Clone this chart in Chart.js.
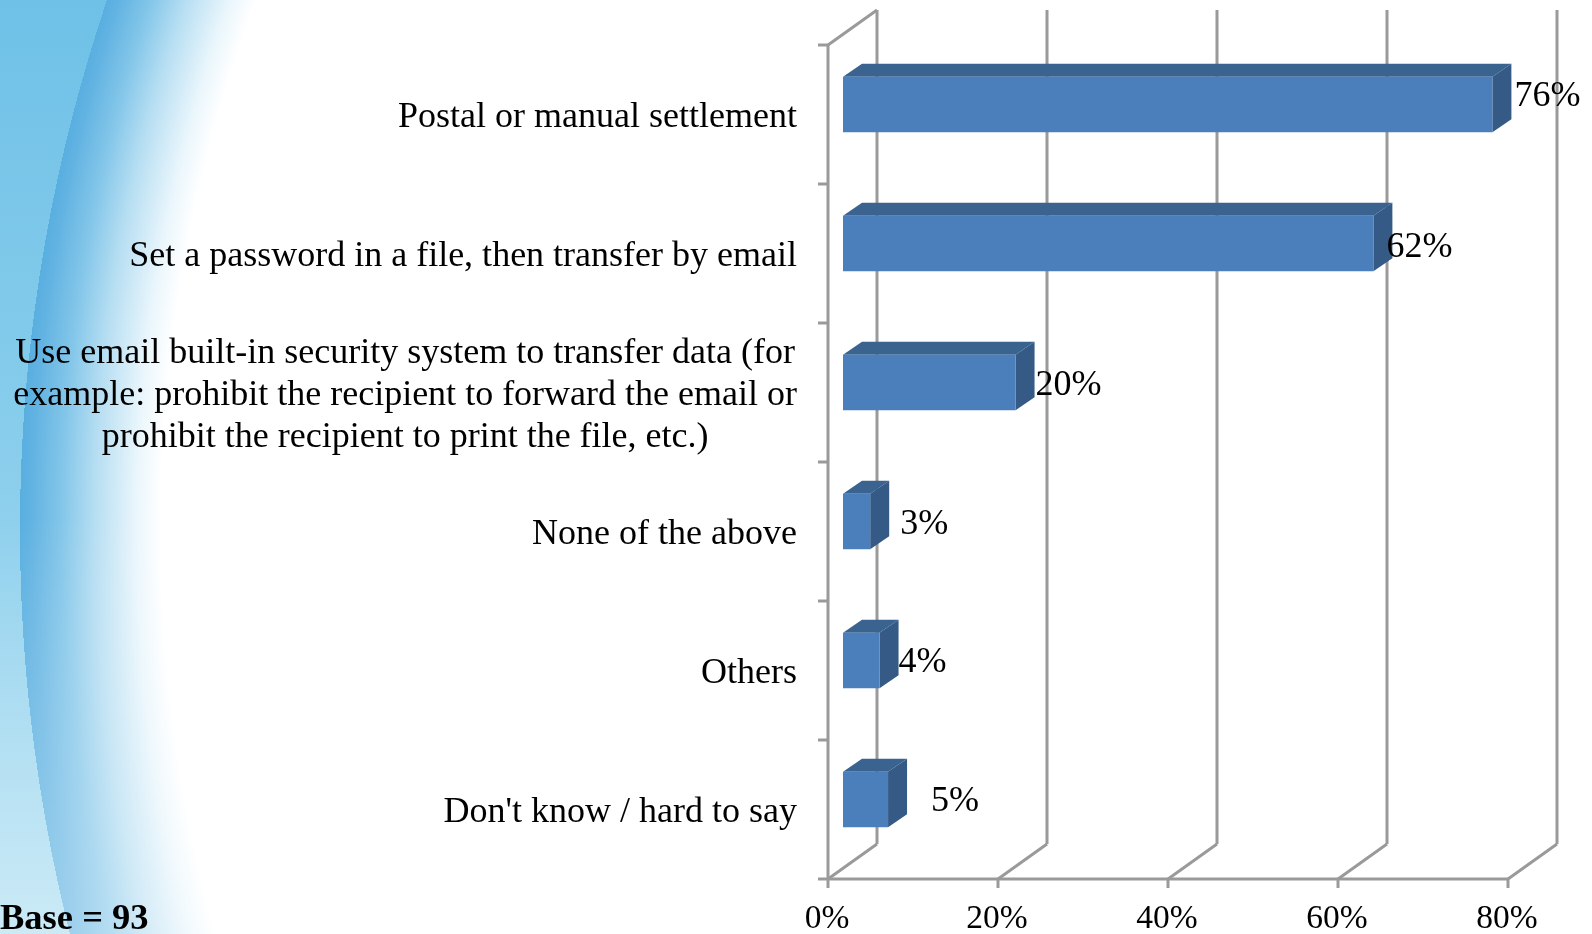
<!DOCTYPE html>
<html>
<head>
<meta charset="utf-8">
<title>Data transfer methods</title>
<script src="https://cdn.jsdelivr.net/npm/chart.js@4"></script>
<style>
    html, body { margin: 0; padding: 0; width: 1592px; height: 934px; overflow: hidden; background: #fff; }
    /* slide background: blue swoosh on the left */
    #bg {
        position: absolute; left: 0; top: 0; width: 1592px; height: 934px;
        background:
            linear-gradient(180deg, rgba(255,255,255,0) 55%, rgba(255,255,255,.42) 100%),
            radial-gradient(circle 1658px at 1678px 530px, #fff 91.5%, #eaf6fc 93%, #b6def2 95.5%, #83c6e9 97.5%, #62b3e2 99.3%, #58afe0 100%, rgba(88,175,224,0) 100%),
            linear-gradient(180deg, #6fc1e7 0%, #84cbeb 40%, #97d4ee 70%, #a6dbf0 100%);
    }
    canvas { position: absolute; left: 0; top: 0; }
</style>
</head>
<body>
<div id="bg"></div>
<canvas id="chart" width="1592" height="934"></canvas>
<script>
// Values
const categories = [
    ['Postal or manual settlement'],
    ['Set a password in a file, then transfer by email'],
    ['Use email built-in security system to transfer data (for',
     'example: prohibit the recipient to forward the email or',
     'prohibit the recipient to print the file, etc.)'],
    ['None of the above'],
    ['Others'],
    ["Don't know / hard to say"]
];
const shares = [76.4, 62.4, 20.3, 3.2, 4.3, 5.3];
const tickValues = [0, 20, 40, 60, 80];
const tickLabels = ['0%', '20%', '40%', '60%', '80%'];
const baseNote = 'Base = 93';

// Hand placed data label nudges, the original labels are not evenly placed
const labelShiftX = [55, 46, 53, 54, 43, 67];
const labelShiftY = [-8, 4, 3, 3, 2, 2];

const FONT = '"Liberation Serif", "Times New Roman", serif';
const GRID = '#9a9a9a';
// bars sit in the middle of the depth, so walls are offset from the bar plane
const FRONT = { x: -15, y: 10 };
const BACK = { x: 34, y: -25 };
const DEPTH = { x: 19, y: -13 };

function line(ctx, x1, y1, x2, y2) {
    ctx.beginPath();
    ctx.moveTo(x1, y1);
    ctx.lineTo(x2, y2);
    ctx.stroke();
}

function face(ctx, pts, color) {
    ctx.fillStyle = color;
    ctx.beginPath();
    pts.forEach((p, i) => i ? ctx.lineTo(p[0], p[1]) : ctx.moveTo(p[0], p[1]));
    ctx.closePath();
    ctx.fill();
}

const box3d = {
    id: 'box3d',
    // Walls, axes and the top/side faces of the bars
    beforeDatasetsDraw(chart) {
        const ctx = chart.ctx;
        const { left, top, bottom } = chart.chartArea;
        const xs = chart.scales.x;
        ctx.save();
        ctx.strokeStyle = GRID;
        ctx.lineWidth = 3;

        tickValues.forEach(v => {
            const px = xs.getPixelForValue(v);
            line(ctx, px + BACK.x, top + BACK.y, px + BACK.x, bottom + BACK.y);
            line(ctx, px + FRONT.x, bottom + FRONT.y, px + BACK.x, bottom + BACK.y);
            line(ctx, px + FRONT.x, bottom + FRONT.y, px + FRONT.x, bottom + FRONT.y + 9);
        });

        // left wall and floor edge
        line(ctx, left + FRONT.x, top + FRONT.y, left + FRONT.x, bottom + FRONT.y);
        line(ctx, left + FRONT.x, top + FRONT.y, left + BACK.x, top + BACK.y);
        line(ctx, left + FRONT.x, bottom + FRONT.y, xs.getPixelForValue(80) + FRONT.x, bottom + FRONT.y);

        const band = (bottom - top) / categories.length;
        for (let i = 0; i <= categories.length; i++) {
            const py = top + band * i + FRONT.y;
            line(ctx, left + FRONT.x - 10, py, left + FRONT.x, py);
        }

        chart.getDatasetMeta(0).data.forEach(bar => {
            const y1 = bar.y - bar.height / 2;
            const y2 = bar.y + bar.height / 2;
            face(ctx, [[bar.base, y1], [bar.x, y1], [bar.x + DEPTH.x, y1 + DEPTH.y], [bar.base + DEPTH.x, y1 + DEPTH.y]], '#3a638f');
            face(ctx, [[bar.x, y1], [bar.x + DEPTH.x, y1 + DEPTH.y], [bar.x + DEPTH.x, y2 + DEPTH.y], [bar.x, y2]], '#345a85');
        });
        ctx.restore();
    },
    // Category labels, tick labels, data labels and the base note
    afterDatasetsDraw(chart) {
        const ctx = chart.ctx;
        const xs = chart.scales.x;
        const ys = chart.scales.y;
        ctx.save();
        ctx.fillStyle = '#000';
        ctx.textBaseline = 'middle';
        ctx.font = '36px ' + FONT;

        categories.forEach((lines, i) => {
            const cy = ys.getPixelForTick(i) + FRONT.y + 3;
            const widest = Math.max(...lines.map(t => ctx.measureText(t).width));
            ctx.textAlign = 'center';
            lines.forEach((t, k) => {
                ctx.fillText(t, 797 - widest / 2, cy + (k - (lines.length - 1) / 2) * 41.6);
            });
        });

        chart.getDatasetMeta(0).data.forEach((bar, i) => {
            ctx.fillText(Math.round(shares[i]) + '%', bar.x + labelShiftX[i], bar.y + labelShiftY[i]);
        });

        ctx.font = '33.5px ' + FONT;
        tickValues.forEach((v, i) => {
            ctx.fillText(tickLabels[i], xs.getPixelForValue(v) + FRONT.x - 1, 919);
        });

        ctx.textAlign = 'left';
        ctx.font = 'bold 36.5px ' + FONT;
        ctx.fillText(baseNote, 0, 920);
        ctx.restore();
    }
};

new Chart(document.getElementById('chart').getContext('2d'), {
    type: 'bar',
    data: {
        labels: categories,
        datasets: [{
            data: shares,
            backgroundColor: '#4b7fbc',
            borderWidth: 0,
            categoryPercentage: 1,
            barPercentage: 0.4
        }]
    },
    options: {
        indexAxis: 'y',
        responsive: false,
        animation: false,
        layout: { padding: { left: 843, right: 69, top: 35, bottom: 65 } },
        plugins: { legend: { display: false }, tooltip: { enabled: false } },
        scales: {
            x: { display: false, min: 0, max: 80, ticks: { stepSize: 20 } },
            y: { display: false }
        }
    },
    plugins: [box3d]
});
</script>
</body>
</html>
